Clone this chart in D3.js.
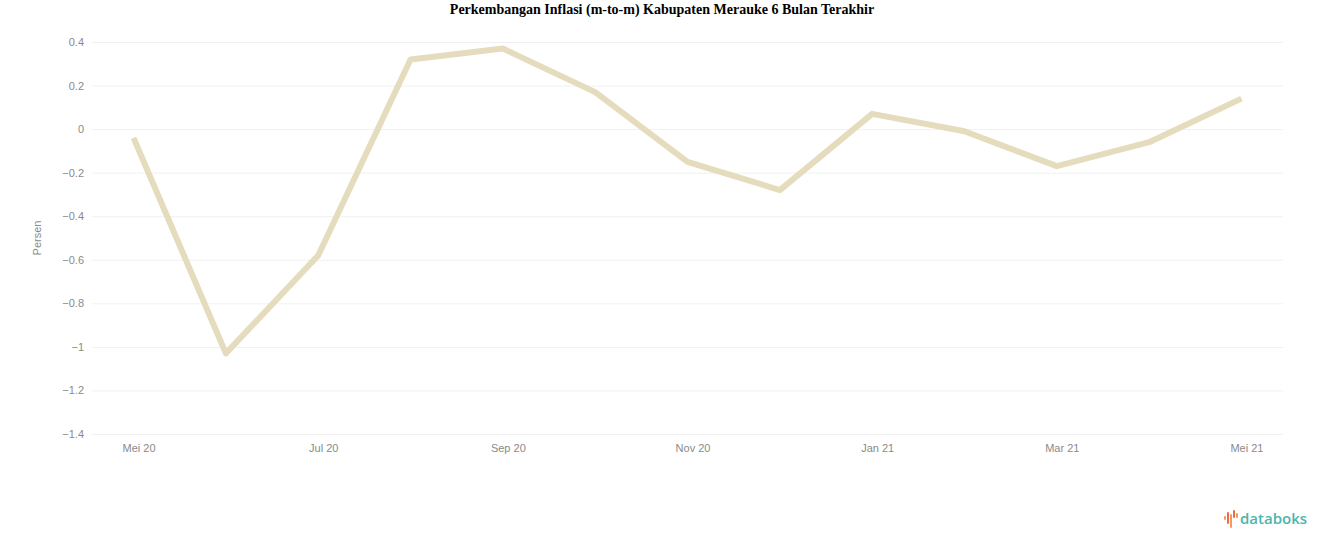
<!DOCTYPE html>
<html>
<head>
<meta charset="utf-8">
<script src="https://cdn.jsdelivr.net/npm/d3@7"></script>
<style>
  body { margin: 0; background: #fff; }
  .axis text { font-family: "Liberation Sans", Arial, sans-serif; font-size: 11px; fill: #8a8a8a; }
  .axis path, .axis line { display: none; }
</style>
</head>
<body>
<div class="chart"></div>
<script>
var months = ["Mei 20", "Jun 20", "Jul 20", "Agu 20", "Sep 20", "Okt 20", "Nov 20",
              "Des 20", "Jan 21", "Feb 21", "Mar 21", "Apr 21", "Mei 21"];
var inflasi = [-0.04, -1.03, -0.58, 0.32, 0.37, 0.17, -0.15, -0.28, 0.07, -0.01, -0.17, -0.06, 0.14];
var yTicks = [0.4, 0.2, 0, -0.2, -0.4, -0.6, -0.8, -1, -1.2, -1.4];
var xTickLabels = ["Mei 20", "Jul 20", "Sep 20", "Nov 20", "Jan 21", "Mar 21", "Mei 21"];

document.addEventListener('DOMContentLoaded', function (event) {
  inflasiViz();
});

function inflasiViz() {
  var width = 1324;
  var height = 547;
  var left = 92, right = 1283, top = 42, bottom = 434;

  var svg = d3.select('div.chart').append('svg')
      .attr('width', width)
      .attr('height', height);

  svg.append('text')
    .attr('x', width / 2)
    .attr('y', 14)
    .attr('text-anchor', 'middle')
    .style('font-family', '"Liberation Serif", "Times New Roman", serif')
    .style('font-weight', 'bold')
    .style('font-size', '14px')
    .style('fill', '#000')
    .text('Perkembangan Inflasi (m-to-m) Kabupaten Merauke 6 Bulan Terakhir');

  var xScale = d3.scalePoint()
      .domain(months)
      .range([left, right])
      .padding(0.45);

  var yScale = d3.scaleLinear()
      .domain([-1.4, 0.4])
      .range([bottom, top]);

  // grid
  svg.append('g')
    .selectAll('line')
    .data(yTicks)
    .enter().append('line')
    .attr('x1', left)
    .attr('x2', right)
    .attr('y1', d => yScale(d) + 0.5)
    .attr('y2', d => yScale(d) + 0.5)
    .attr('stroke', '#f1f1f1')
    .attr('stroke-width', 1);

  var yAxis = d3.axisLeft(yScale)
      .tickValues(yTicks)
      .tickSize(0)
      .tickPadding(0)
      .tickFormat(d => d3.format('')(+d.toFixed(1)));

  svg.append('g')
    .attr('class', 'y axis')
    .attr('transform', 'translate(84,0)')
    .call(yAxis)
    .selectAll('text')
    .attr('dy', '0.32em');

  var xAxis = d3.axisBottom(xScale)
      .tickValues(xTickLabels)
      .tickSize(0)
      .tickPadding(10);

  svg.append('g')
    .attr('class', 'x axis')
    .attr('transform', 'translate(5,' + bottom + ')')
    .call(xAxis);

  svg.append('text')
    .attr('transform', 'translate(41,238) rotate(-90)')
    .attr('text-anchor', 'middle')
    .style('font-family', '"Liberation Sans", Arial, sans-serif')
    .style('font-size', '11px')
    .style('fill', '#8a8a8a')
    .text('Persen');

  var line = d3.line()
      .x((d, i) => xScale(months[i]))
      .y(d => yScale(d));

  svg.append('path')
    .attr('d', line(inflasi))
    .attr('stroke', '#e5dcbe')
    .attr('stroke-width', 6)
    .attr('stroke-linejoin', 'round')
    .attr('fill', 'none');

  // databoks logo
  var logo = svg.append('g').attr('transform', 'translate(1224,510)');
  var bars = [[0, 6, 4], [3, 2, 12], [6, 4, 14], [9, 0, 8], [12, 3, 5]];
  logo.selectAll('rect')
    .data(bars)
    .enter().append('rect')
    .attr('x', d => d[0])
    .attr('y', d => d[1])
    .attr('width', 2)
    .attr('height', d => d[2])
    .attr('rx', 1)
    .attr('fill', (d, i) => i % 2 ? '#ee6a4d' : '#f59a5a');
  logo.append('text')
    .attr('x', 16)
    .attr('y', 14)
    .style('font-family', '"Open Sans", "Noto Sans", sans-serif')
    .style('font-weight', '600')
    .style('font-size', '15px')
    .style('fill', '#4cb5ad')
    .text('databoks');
}
</script>
</body>
</html>
